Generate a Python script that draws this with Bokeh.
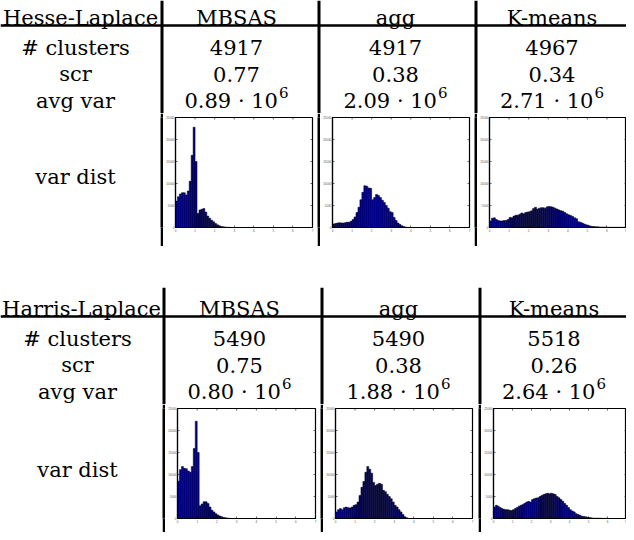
import numpy as np
from bokeh.plotting import figure
from bokeh.layouts import column, row
from bokeh.models import Range1d, FixedTicker, Label, Spacer
from bokeh.core.properties import value
from bokeh.embed import file_html
from bokeh.resources import INLINE

# ---------------- data ----------------
DETECTORS = ["Hesse-Laplace", "Harris-Laplace"]
METHODS = ["MBSAS", "agg", "K-means"]
ROW_LABELS = ["# clusters", "scr", "avg var", "var dist"]

HL_CLUSTERS = ["4917", "4917", "4967"]
HL_SCR = ["0.77", "0.38", "0.34"]
HL_AVGVAR = ["0.89", "2.09", "2.71"]

HA_CLUSTERS = ["5490", "5490", "5518"]
HA_SCR = ["0.75", "0.38", "0.26"]
HA_AVGVAR = ["0.80", "1.88", "2.64"]

AVGVAR_EXP = "6"

BIN_WIDTH = 0.1          # histogram bin width (x 10^6)
HIST_X_TICKS = [0, 1, 2, 3, 4, 5, 6, 7]
HIST_Y_TICKS = [0, 5000, 10000, 15000, 20000, 25000]
HIST_X_MAX = 7
HIST_Y_MAX = 25000

HL_MBSAS_HIST = [6000, 7000, 7600, 7900, 7900, 7400, 8300, 10500, 16400, 22800,
                 15000, 3200, 4000, 4150, 4300, 3500, 2600, 2100, 1650, 1300,
                 900, 600, 380, 230, 150, 100, 50, 50]
HL_AGG_HIST = [800, 900, 1000, 1100, 1050, 1000, 1100, 1200, 1200, 1400,
               1800, 2400, 3400, 4600, 6300, 8000, 9500, 9400, 9000, 8900,
               6300, 6800, 7500, 7300, 6800, 6200, 5700, 5000, 4400, 3600,
               3400, 2300, 1600, 1000, 700, 400, 200, 80, 30]
HL_KM_HIST = [1500, 2100, 2200, 1800, 1600, 1500, 1500, 1600, 1600, 1800,
              2300, 2200, 2600, 2800, 2800, 3000, 3300, 3100, 3400, 3500,
              3600, 3800, 4300, 4600, 4200, 4400, 4500, 4500, 4400, 4700,
              4800, 4700, 4600, 4400, 4200, 4000, 3800, 3700, 3400, 3100,
              2900, 2700, 2500, 2200, 2000, 1300, 1200, 1000, 800, 600,
              500, 350, 250, 200, 150, 150, 100, 100, 100, 100,
              60, 60, 60, 60, 60, 60, 60, 60, 60, 60]
HA_MBSAS_HIST = [8500, 11100, 11800, 11400, 11300, 10800, 10500, 11800, 15900, 22100,
                 15000, 2900, 3300, 3800, 3800, 3400, 2600, 1900, 1500, 1100,
                 800, 550, 380, 250, 150, 80, 40]
HA_AGG_HIST = [1500, 2000, 2250, 2000, 2450, 2600, 2450, 2400, 2600, 3000,
               3150, 3750, 5250, 7100, 8400, 10500, 11800, 11200, 10300, 8200,
               7500, 7800, 8000, 7800, 6400, 6100, 5500, 5000, 4500, 3750,
               3000, 2600, 2000, 1500, 900, 380, 150]
HA_KM_HIST = [2600, 3000, 2800, 2500, 2250, 2100, 2000, 2000, 1900, 1800,
              2000, 2250, 2500, 2800, 3000, 3200, 3450, 3750, 3900, 3750,
              4300, 4500, 4650, 4700, 5000, 5250, 5450, 5600, 5750, 5600,
              5750, 5600, 5450, 5000, 4700, 4300, 3900, 3400, 3000, 2500,
              2000, 1700, 1500, 1100, 900, 750, 530, 450, 380, 300,
              220, 150, 80, 80, 80, 80, 80, 30, 30, 30]

BLOCKS = [
    dict(det=DETECTORS[0], clusters=HL_CLUSTERS, scr=HL_SCR, avg=HL_AVGVAR,
         hists=[HL_MBSAS_HIST, HL_AGG_HIST, HL_KM_HIST]),
    dict(det=DETECTORS[1], clusters=HA_CLUSTERS, scr=HA_SCR, avg=HA_AVGVAR,
         hists=[HA_MBSAS_HIST, HA_AGG_HIST, HA_KM_HIST]),
]

# ---------------- layout / style ----------------
W = 626
FONT = "DejaVu Serif"
FS = 21
SUP_FS = 15
DIGIT_EM = 0.636   # DejaVu Serif advance widths (em)
PUNCT_EM = 0.318
BAR_FILL = "#00008F"
SEP_W = 3
BASE_TABLE_H = 117
HEADER_Y = 21
HLINE_Y = 29
ROW_YS = [51, 77.5, 104]
VARDIST_Y = 72
GAP_H = 41

LAYOUTS = [
    dict(widths=[160, 154, 154, 149], crop=4, hist_h=133,
         margins=[(10, 5), (10, 5), (10, 0)], mt=4, mb=19,
         dx=[-5, -4, -2, 0]),
    dict(widths=[162, 155, 155, 145], crop=0, hist_h=128,
         margins=[(11, 5), (10, 6), (10, 0)], mt=4, mb=14,
         dx=[-4, -3.5, -2.5, 0]),
]


def col_bounds(widths):
    xs = []
    x = 0
    for i, w in enumerate(widths):
        xs.append((x, x + w))
        x += w
        if i < len(widths) - 1:
            x += SEP_W
    return xs


def blank_fig(w, h):
    p = figure(width=w, height=h, x_range=Range1d(0, w), y_range=Range1d(h, 0),
               x_axis_location=None, y_axis_location=None, min_border=0,
               toolbar_location=None, output_backend="svg",
               outline_line_color=None)
    p.grid.visible = False
    return p


def add_text(p, xs, ys, texts, size=FS, align="center"):
    p.text(x=xs, y=ys, text=texts, text_font=value(FONT),
           text_font_size=value(f"{size}px"), text_align=align,
           text_baseline="alphabetic", text_color="black")


def table_fig(block, lay):
    c = lay["crop"]
    h = BASE_TABLE_H - c
    p = blank_fig(W, h)
    bounds = col_bounds(lay["widths"])
    seps = [bounds[i][1] + SEP_W / 2 for i in range(3)]
    p.segment(x0=seps, y0=[0] * 3, x1=seps, y1=[h] * 3,
              line_width=SEP_W, line_color="black")
    p.segment(x0=[0], y0=[HLINE_Y - c], x1=[W], y1=[HLINE_Y - c],
              line_width=2.5, line_color="black")
    centers = [(a + b) / 2 for a, b in bounds]
    tc = [cx + d for cx, d in zip(centers, lay["dx"])]
    rows_y = [y - c for y in ROW_YS]
    add_text(p, [centers[0]] + tc[1:], [HEADER_Y - c] * 4, [block["det"]] + METHODS)
    add_text(p, [tc[0]] * 3, rows_y, ROW_LABELS[:3])
    add_text(p, tc[1:], [rows_y[0]] * 3, block["clusters"])
    add_text(p, tc[1:], [rows_y[1]] * 3, block["scr"])
    # avg var: "m · 10" followed by a raised exponent
    main_w = (5 * DIGIT_EM + 4 * PUNCT_EM) * FS
    sup_w = DIGIT_EM * SUP_FS
    tot = main_w + 1 + sup_w
    xr = [cx - tot / 2 + main_w for cx in tc[1:]]
    add_text(p, xr, [rows_y[2]] * 3, [f"{m} · 10" for m in block["avg"]], align="right")
    add_text(p, [x + 1 for x in xr], [rows_y[2] - 8.5] * 3, [AVGVAR_EXP] * 3,
             size=SUP_FS, align="left")
    return p


def sep_fig(h):
    p = figure(width=SEP_W, height=h, x_axis_location=None, y_axis_location=None,
               min_border=0, toolbar_location=None, output_backend="svg",
               background_fill_color="black", border_fill_color="black",
               outline_line_color=None, x_range=Range1d(0, 1), y_range=Range1d(0, 1))
    p.grid.visible = False
    return p


def hist_fig(counts, w, h, ml, mr, mt, mb):
    p = figure(width=w, height=h, x_range=Range1d(0, HIST_X_MAX),
               y_range=Range1d(0, HIST_Y_MAX), toolbar_location=None,
               output_backend="svg", min_border_left=ml, min_border_right=mr,
               min_border_top=mt, min_border_bottom=mb)
    edges = np.arange(len(counts) + 1) * BIN_WIDTH
    p.quad(left=edges[:-1], right=edges[1:], bottom=0, top=counts,
           fill_color=BAR_FILL, line_color="black", line_width=0.5)
    # inward ticks on the top and right edges of the box (MATLAB style)
    fw = w - ml - mr
    fh = h - mt - mb
    tlen_y = 2.0 / fh * HIST_Y_MAX
    tlen_x = 2.0 / fw * HIST_X_MAX
    p.segment(x0=HIST_X_TICKS, y0=[HIST_Y_MAX] * len(HIST_X_TICKS),
              x1=HIST_X_TICKS, y1=[HIST_Y_MAX - tlen_y] * len(HIST_X_TICKS),
              line_color="black", line_width=0.6)
    p.segment(x0=[HIST_X_MAX] * len(HIST_Y_TICKS), y0=HIST_Y_TICKS,
              x1=[HIST_X_MAX - tlen_x] * len(HIST_Y_TICKS), y1=HIST_Y_TICKS,
              line_color="black", line_width=0.6)
    p.grid.visible = False
    p.outline_line_color = "black"
    p.outline_line_width = 1.2
    p.outline_line_alpha = 1
    p.xaxis.ticker = FixedTicker(ticks=HIST_X_TICKS)
    p.yaxis.ticker = FixedTicker(ticks=HIST_Y_TICKS)
    for ax in (p.xaxis[0], p.yaxis[0]):
        ax.major_tick_in = 2
        ax.major_tick_out = 0
        ax.minor_tick_line_color = None
        ax.major_label_text_font_size = "3px"
        ax.major_label_standoff = 1
        ax.major_label_text_color = "#555555"
        ax.axis_line_color = "black"
        ax.axis_line_width = 1.2
        ax.major_tick_line_width = 0.6
    p.add_layout(Label(x=HIST_X_MAX, y=0, y_offset=-6, text="x 10⁶",
                       text_font_size="3.5px", text_align="right",
                       text_baseline="top", text_color="#555555"))
    return p


def hist_row(block, lay):
    h = lay["hist_h"]
    widths = lay["widths"]
    lab = blank_fig(widths[0], h)
    add_text(lab, [widths[0] / 2 + lay["dx"][0]], [VARDIST_Y], [ROW_LABELS[3]])
    kids = [lab]
    for i in range(3):
        kids.append(sep_fig(h))
        ml, mr = lay["margins"][i]
        kids.append(hist_fig(block["hists"][i], widths[i + 1], h, ml, mr,
                             lay["mt"], lay["mb"]))
    return row(*kids, spacing=0)


items = []
for bi, (block, lay) in enumerate(zip(BLOCKS, LAYOUTS)):
    if bi > 0:
        items.append(Spacer(width=W, height=GAP_H))
    items.append(table_fig(block, lay))
    items.append(hist_row(block, lay))

page = column(*items, spacing=0)

open("out.html", "w").write(file_html(page, INLINE))
